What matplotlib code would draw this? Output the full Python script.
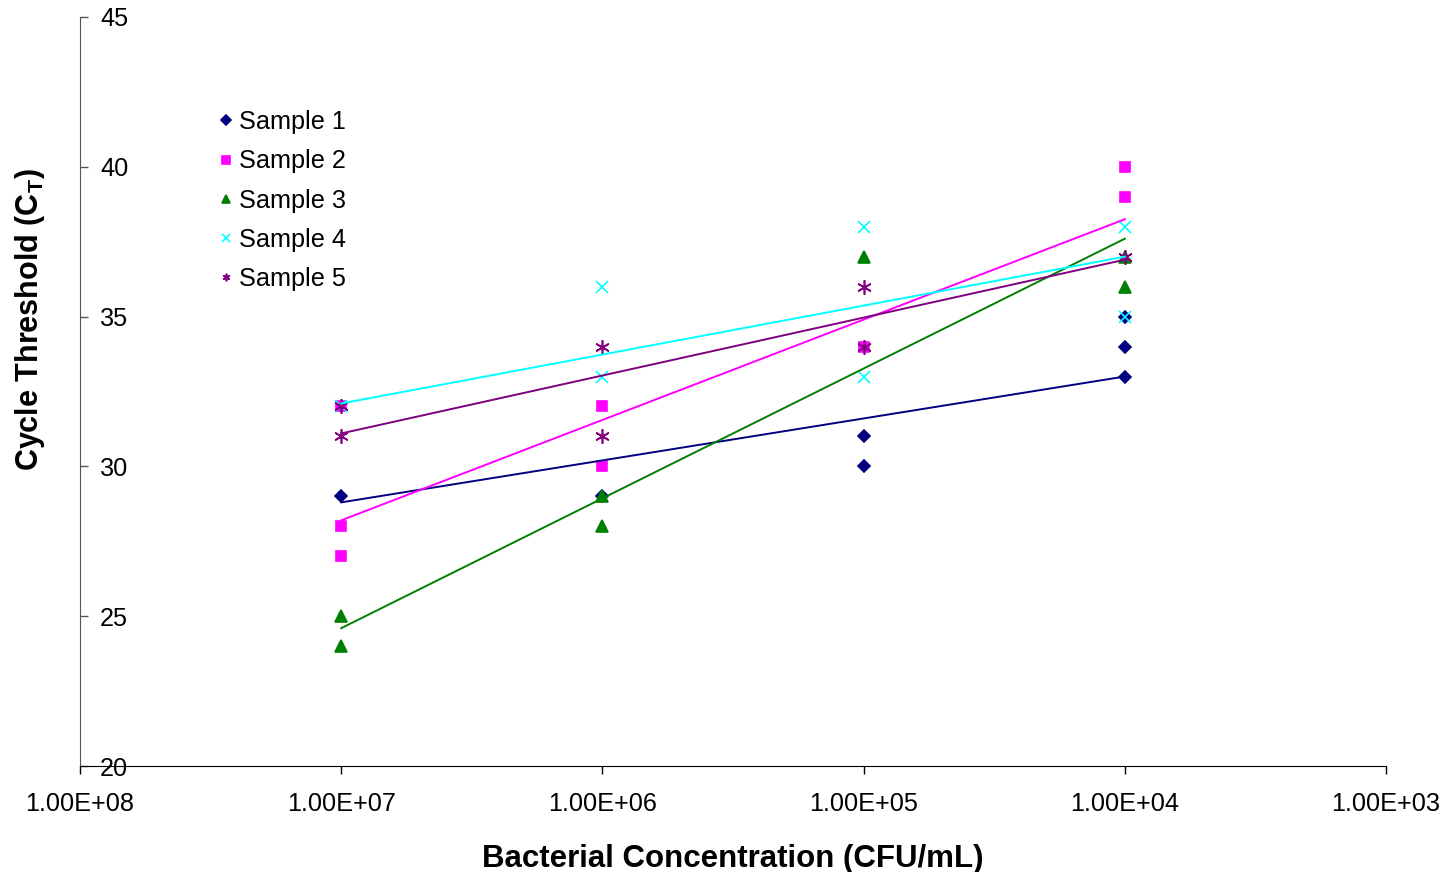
import matplotlib
matplotlib.use('Agg')
import matplotlib.pyplot as plt
from matplotlib.ticker import FixedLocator, FuncFormatter

plt.rcParams['font.family'] = ['Liberation Sans', 'DejaVu Sans']
plt.rcParams['mathtext.fontset'] = 'custom'
plt.rcParams['mathtext.bf'] = 'Liberation Sans:bold'
plt.rcParams['mathtext.rm'] = 'Liberation Sans'

# Data
conc_1 = [1e7, 1e6, 1e5, 1e5, 1e4, 1e4, 1e4]
ct_1 = [29, 29, 31, 30, 35, 34, 33]
conc_2 = [1e7, 1e7, 1e7, 1e6, 1e6, 1e5, 1e4, 1e4]
ct_2 = [32, 28, 27, 32, 30, 34, 40, 39]
conc_3 = [1e7, 1e7, 1e6, 1e6, 1e5, 1e4, 1e4]
ct_3 = [25, 24, 29, 28, 37, 37, 36]
conc_4 = [1e7, 1e6, 1e6, 1e5, 1e5, 1e4, 1e4]
ct_4 = [32, 36, 33, 38, 33, 38, 35]
conc_5 = [1e7, 1e7, 1e6, 1e6, 1e5, 1e5, 1e4]
ct_5 = [32, 31, 34, 31, 36, 34, 37]

# Trendline values at the end concentrations
fit_conc = [1e7, 1e4]
fit_1 = [28.8, 33.0]
fit_2 = [28.2, 38.25]
fit_3 = [24.6, 37.6]
fit_4 = [32.1, 37.0]
fit_5 = [31.1, 36.9]

labels = ['Sample 1', 'Sample 2', 'Sample 3', 'Sample 4', 'Sample 5']
x_ticks = [1e8, 1e7, 1e6, 1e5, 1e4, 1e3]
y_ticks = [20, 25, 30, 35, 40, 45]

series = [
    (conc_1, ct_1, fit_1, '#000080', 'D', 6.5),
    (conc_2, ct_2, fit_2, '#FF00FF', 's', 6.5),
    (conc_3, ct_3, fit_3, '#008000', '^', 8),
    (conc_4, ct_4, fit_4, '#00FFFF', 'x', 8),
    (conc_5, ct_5, fit_5, '#800080', (6, 2, 0), 10.5),
]

fig = plt.figure(figsize=(14.49, 8.72), dpi=100)
ax = fig.add_axes([80 / 1449, 1 - 766 / 872, 1306 / 1449, 749 / 872])

for (conc, ct, fit, color, marker, ms), label in zip(series, labels):
    ax.plot(conc, ct, linestyle='none', marker=marker, color=color,
            markersize=ms, markeredgewidth=1.2, label=label)
for conc, ct, fit, color, marker, ms in series:
    ax.plot(fit_conc, fit, color=color, linewidth=1.4)

ax.set_xscale('log')
ax.set_xlim(1e8, 1e3)
ax.set_ylim(20, 45)
ax.xaxis.set_major_locator(FixedLocator(x_ticks))
ax.xaxis.set_minor_locator(FixedLocator([]))
ax.xaxis.set_major_formatter(FuncFormatter(lambda v, p: f"{v:.2E}"))
ax.yaxis.set_major_locator(FixedLocator(y_ticks))

ax.spines['top'].set_visible(False)
ax.spines['right'].set_visible(False)
ax.spines['left'].set_color('#555555')
ax.spines['bottom'].set_color('black')

ax.tick_params(axis='x', direction='out', length=6, width=1, pad=13, labelsize=18.2)
ax.tick_params(axis='y', direction='in', length=6, width=1, pad=-14.5,
               labelsize=18.2, colors='black')
ax.tick_params(axis='y', color='#555555')
for lab in ax.get_yticklabels():
    lab.set_horizontalalignment('left')

ax.set_xlabel('Bacterial Concentration (CFU/mL)', fontsize=22.5, fontweight='bold',
              labelpad=20)
fig.text(30 / 1449, 1 - 320 / 872, r'Cycle Threshold (C$_\mathbf{T}$)',
         rotation=90, fontsize=22, fontweight='bold', ha='center', va='center')

leg = ax.legend(loc='upper left', bbox_to_anchor=(0.095, 0.889), frameon=False,
                fontsize=18.2, handletextpad=0.1, labelspacing=0.6,
                handlelength=0.9, borderaxespad=0)
for h in leg.legend_handles:
    h.set_markersize(5.5)

fig.savefig('out.png', dpi=100)
